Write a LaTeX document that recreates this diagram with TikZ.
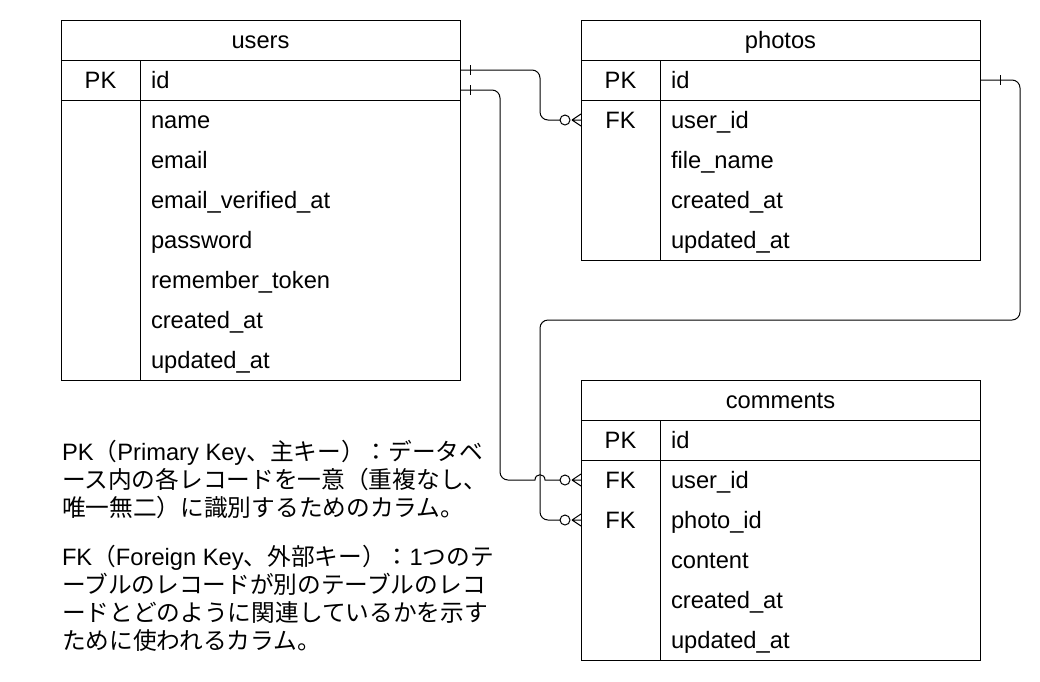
\documentclass[tikz,border=0pt]{standalone}
\usepackage{fontspec}
\setmainfont{Liberation Sans}
\newfontfamily\jp{Noto Sans CJK JP}
\begin{document}
\begin{tikzpicture}[x=1pt, y=-1pt, line width=1pt,
  every node/.style={font=\fontsize{23.7}{28}\selectfont, inner sep=0pt, outer sep=0pt},
  hd/.style={draw, minimum width=399pt, minimum height=40pt, text height=16.8pt, text depth=0pt},
  key/.style={minimum width=79pt, minimum height=40pt, text height=16.8pt, text depth=0pt},
  cell/.style={minimum width=320pt, minimum height=40pt, text width=298pt, align=left, inner xsep=11pt, text height=16.8pt, text depth=0pt},
  bar/.pic={\draw (0,-5) -- (0,5);},
  zeromany/.pic={\draw[fill=white] (-16,0) circle[radius=5pt]; \draw (-9,0) -- (0,-6) (-9,0) -- (0,0) (-9,0) -- (0,6);}]
\useasboundingbox (0,0) rectangle (1040,681);

% users
\draw (61,20) rectangle (460,380);
\node[hd] (users) at (260.5,40) {users};
\draw (61,100) -- (460,100);
\draw (140,60) -- (140,380);
\node[key] (users-pk) at (100.5,80) {PK};
\node[cell] (users-id) at (300,80) {id};
\node[cell] (users-name) at (300,120) {name};
\node[cell] (users-email) at (300,160) {email};
\node[cell] (users-ev) at (300,200) {email\_verified\_at};
\node[cell] (users-pw) at (300,240) {password};
\node[cell] (users-rt) at (300,280) {remember\_token};
\node[cell] (users-ca) at (300,320) {created\_at};
\node[cell] (users-ua) at (300,360) {updated\_at};

% photos
\draw (581,20) rectangle (980,260);
\node[hd] (photos) at (780.5,40) {photos};
\draw (581,100) -- (980,100);
\draw (660,60) -- (660,260);
\node[key] (photos-pk) at (620.5,80) {PK};
\node[key] (photos-fk) at (620.5,120) {FK};
\node[cell] (photos-id) at (820,80) {id};
\node[cell] (photos-uid) at (820,120) {user\_id};
\node[cell] (photos-fn) at (820,160) {file\_name};
\node[cell] (photos-ca) at (820,200) {created\_at};
\node[cell] (photos-ua) at (820,240) {updated\_at};

% comments
\draw (581,380) rectangle (980,660);
\node[hd] (comments) at (780.5,400) {comments};
\draw (581,460) -- (980,460);
\draw (660,420) -- (660,660);
\node[key] (comments-pk) at (620.5,440) {PK};
\node[key] (comments-fk1) at (620.5,480) {FK};
\node[key] (comments-fk2) at (620.5,520) {FK};
\node[cell] (comments-id) at (820,440) {id};
\node[cell] (comments-uid) at (820,480) {user\_id};
\node[cell] (comments-pid) at (820,520) {photo\_id};
\node[cell] (comments-ct) at (820,560) {content};
\node[cell] (comments-ca) at (820,600) {created\_at};
\node[cell] (comments-ua) at (820,640) {updated\_at};

% relations
\draw[rounded corners=8pt] ([yshift=10pt]users-id.east) -| ([xshift=-41pt]photos-fk.west) -- ([xshift=-21pt]photos-fk.west);
\pic at ([xshift=10pt,yshift=10pt]users-id.east) {bar};
\pic at (photos-fk.west) {zeromany};
\draw ([yshift=-10pt]users-id.east) [rounded corners=8pt] -| ([xshift=-81pt]comments-fk1.west) [sharp corners] -- ([xshift=-46pt]comments-fk1.west)
  .. controls ([shift={(-46,-7)}]comments-fk1.west) and ([shift={(-36,-7)}]comments-fk1.west) .. ([xshift=-36pt]comments-fk1.west)
  -- ([xshift=-21pt]comments-fk1.west);
\pic at ([xshift=10pt,yshift=-10pt]users-id.east) {bar};
\pic at (comments-fk1.west) {zeromany};
\draw[rounded corners=8pt] (photos-id.east) -| (1020,320) -| ([xshift=-41pt]comments-fk2.west) -- ([xshift=-21pt]comments-fk2.west);
\pic at ([xshift=20pt]photos-id.east) {bar};
\pic at (comments-fk2.west) {zeromany};

% notes
\node[anchor=base west, align=left] (pknote) at (62,516.5) {PK{\jp （}Primary Key{\jp 、主キー）：データベ}\\{\jp ース内の各レコードを一意（重複なし、}\\{\jp 唯一無二）に識別するためのカラム。}};
\node[anchor=base west, align=left] (fknote) at (62,649.5) {FK{\jp （}Foreign Key{\jp 、外部キー）：}1{\jp つのテ}\\{\jp ーブルのレコードが別のテーブルのレコ}\\{\jp ードとどのように関連しているかを示す}\\{\jp ために使われるカラム。}};
\end{tikzpicture}
\end{document}
